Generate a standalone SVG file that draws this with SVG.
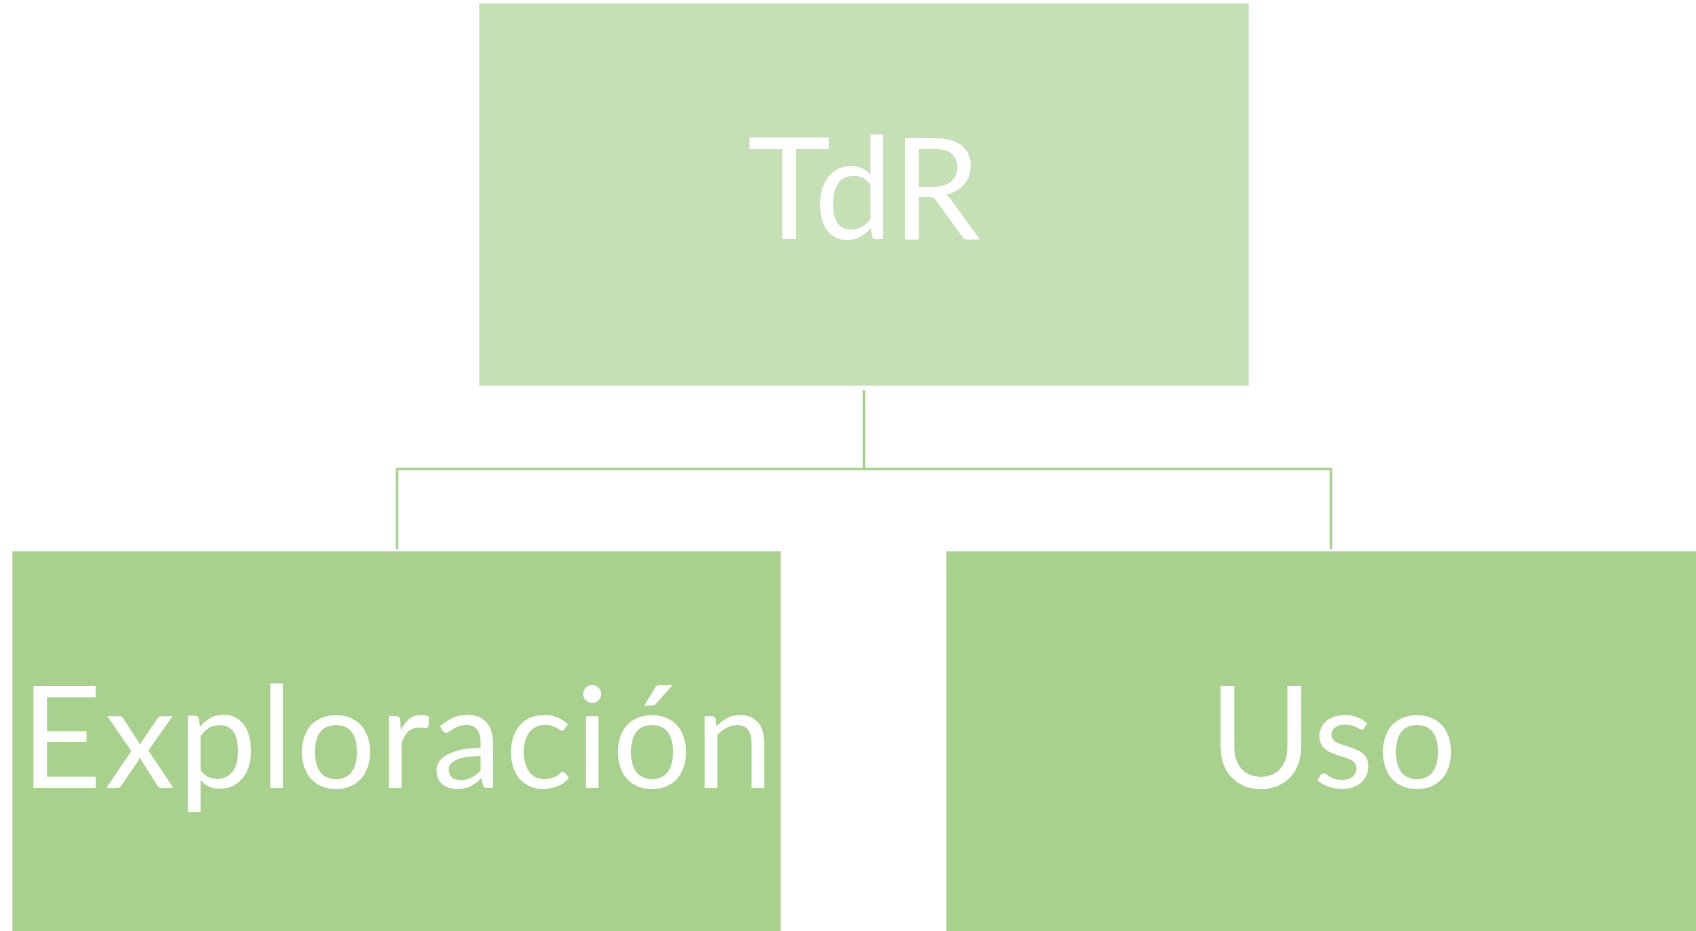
<svg xmlns="http://www.w3.org/2000/svg" width="1696" height="931" viewBox="0 0 1696 931">
<style>
.box{stroke:#ffffff;stroke-opacity:0.45;stroke-width:1.5}
.top{fill:#c5e0b4}
.sub{fill:#a9d18e}
.lbl{font-family:Lato,"Open Sans","Liberation Sans",sans-serif;font-size:141px;fill:#ffffff;text-anchor:middle}
.conn{fill:none;stroke:#a9d18e;stroke-width:2.5}
</style>
<rect width="1696" height="931" fill="#ffffff"/>
<g id="connectors">
<path class="conn" d="M864,390 V469 H397 V549"/>
<path class="conn" d="M864,469 H1331 V549"/>
</g>
<g id="node-tdr">
<rect class="box top" x="479" y="3" width="770" height="383"/>
<text class="lbl" x="864" y="239" textLength="233">TdR</text>
</g>
<g id="node-exploracion">
<rect class="box sub" x="12" y="551" width="769" height="400"/>
<text class="lbl" x="397" y="788" textLength="753">Exploración</text>
</g>
<g id="node-uso">
<rect class="box sub" x="946" y="551" width="769" height="400"/>
<text class="lbl" x="1333" y="788" textLength="248">Uso</text>
</g>
</svg>
